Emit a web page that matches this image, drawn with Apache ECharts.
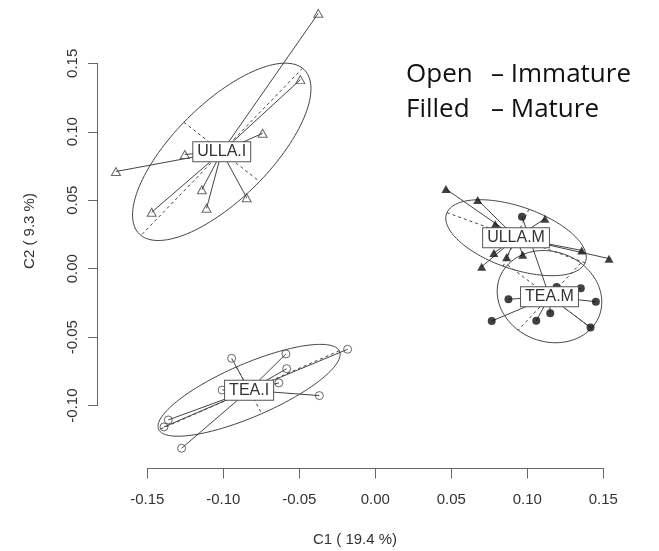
<!DOCTYPE html>
<html><head><meta charset="utf-8">
<script src="https://cdn.jsdelivr.net/npm/echarts@6/dist/echarts.min.js"></script>
<style>html,body{margin:0;padding:0;background:#fff}#c{width:659px;height:551px}</style>
</head><body><div id="c"></div>
<script>
// ---- data ----
const groupNames = ['ULLA.I', 'TEA.I', 'ULLA.M', 'TEA.M'];
const ullaI_C1 = [-0.0375, -0.0493, -0.0741, -0.1253, -0.1706, -0.1471, -0.1141, -0.1110, -0.0846];
const ullaI_C2 = [0.1869, 0.1384, 0.0992, 0.0837, 0.0712, 0.0414, 0.0579, 0.0443, 0.0520];
const teaI_C1 = [-0.0945, -0.0588, -0.0583, -0.0634, -0.0182, -0.0368, -0.1362, -0.1390, -0.1274, -0.1007];
const teaI_C2 = [-0.0654, -0.0622, -0.0730, -0.0834, -0.0588, -0.0927, -0.1105, -0.1156, -0.1312, -0.0886];
const ullaM_C1 = [0.0465, 0.0674, 0.0789, 0.1116, 0.1358, 0.1538, 0.0780, 0.0864, 0.0970, 0.0700];
const ullaM_C2 = [0.0584, 0.0504, 0.0327, 0.0367, 0.0135, 0.0075, 0.0116, 0.0085, 0.0104, 0.0016];
const teaM_C1 = [0.0965, 0.0876, 0.0766, 0.1059, 0.1151, 0.1352, 0.1451, 0.1416, 0.1193];
const teaM_C2 = [0.0382, -0.0222, -0.0382, -0.0380, -0.0325, -0.0142, -0.0240, -0.0429, -0.0132];
const centroidC1 = [-0.1010, -0.0830, 0.0926, 0.1146];
const centroidC2 = [0.0856, -0.0888, 0.0228, -0.0203];
const ellipseSemiMajor = [0.081, 0.066, 0.049, 0.036];
const ellipseSemiMinor = [0.033, 0.019, 0.0225, 0.032];
const ellipseAngleDeg = [49, 26, -22, -40];
const c1Ticks = [-0.15, -0.10, -0.05, 0.00, 0.05, 0.10, 0.15];
const c2Ticks = [-0.10, -0.05, 0.00, 0.05, 0.10, 0.15];
const xTitle = 'C1 ( 19.4 %)';
const yTitle = 'C2 ( 9.3 %)';
const noteLeft = ['Open', 'Filled'];
const noteRight = ['\u2013 Immature', '\u2013 Mature'];

// ---- build ----
const LINE = '#444';
const AX = '#666';
const TXT = '#333';
const FONT = 'Liberation Sans, Arial, sans-serif';
const NOTE_FONT = '26px "Open Sans", sans-serif';

const groupsC1 = [ullaI_C1, teaI_C1, ullaM_C1, teaM_C1];
const groupsC2 = [ullaI_C2, teaI_C2, ullaM_C2, teaM_C2];
const symbols = ['triangle', 'circle', 'triangle', 'circle'];
const filled = [false, false, true, true];

const spiderData = [];
groupsC1.forEach((xs, g) => xs.forEach((x, i) => spiderData.push([x, groupsC2[g][i], centroidC1[g], centroidC2[g]])));
const ellipseData = groupNames.map((n, g) => [centroidC1[g], centroidC2[g], ellipseSemiMajor[g], ellipseSemiMinor[g], ellipseAngleDeg[g]]);
const labelData = groupNames.map((n, g) => [centroidC1[g], centroidC2[g], n]);

function renderEllipse(params, api) {
  const cx = api.value(0), cy = api.value(1), a = api.value(2), b = api.value(3);
  const th = api.value(4) * Math.PI / 180, ct = Math.cos(th), st = Math.sin(th);
  const pts = [];
  for (let k = 0; k <= 144; k++) {
    const t = k / 144 * 2 * Math.PI;
    pts.push(api.coord([cx + a * ct * Math.cos(t) - b * st * Math.sin(t), cy + a * st * Math.cos(t) + b * ct * Math.sin(t)]));
  }
  const m1 = api.coord([cx + a * ct, cy + a * st]), m2 = api.coord([cx - a * ct, cy - a * st]);
  const n1 = api.coord([cx - b * st, cy + b * ct]), n2 = api.coord([cx + b * st, cy - b * ct]);
  const dash = { stroke: LINE, lineWidth: 1, lineDash: [3, 3], fill: null };
  return { type: 'group', children: [
    { type: 'polyline', shape: { points: pts }, style: { stroke: LINE, lineWidth: 1, fill: null } },
    { type: 'line', shape: { x1: m1[0], y1: m1[1], x2: m2[0], y2: m2[1] }, style: dash },
    { type: 'line', shape: { x1: n1[0], y1: n1[1], x2: n2[0], y2: n2[1] }, style: dash }
  ]};
}
function renderSpider(params, api) {
  const p = api.coord([api.value(0), api.value(1)]);
  const c = api.coord([api.value(2), api.value(3)]);
  return { type: 'line', shape: { x1: c[0], y1: c[1], x2: p[0], y2: p[1] }, style: { stroke: LINE, lineWidth: 1 } };
}
function renderLabel(params, api) {
  const c = api.coord([api.value(0), api.value(1)]);
  return { type: 'text', x: c[0], y: c[1], style: {
    text: groupNames[params.dataIndex], fill: TXT, font: '16px ' + FONT, align: 'center', verticalAlign: 'middle',
    backgroundColor: '#fff', borderColor: '#555', borderWidth: 1, padding: [2, 4, 1, 4]
  }};
}

const series = [
  { type: 'custom', xAxisIndex: 0, yAxisIndex: 0, data: ellipseData, renderItem: renderEllipse, encode: { x: 0, y: 1 }, clip: false, silent: true, z: 1 },
  { type: 'custom', xAxisIndex: 0, yAxisIndex: 0, data: spiderData, renderItem: renderSpider, encode: { x: 0, y: 1 }, clip: false, silent: true, z: 2 }
];
groupsC1.forEach((xs, g) => {
  series.push({
    type: 'scatter', xAxisIndex: 0, yAxisIndex: 0, z: 3, silent: true,
    symbol: symbols[g],
    symbolSize: symbols[g] === 'triangle' ? [9, 8] : 8,
    itemStyle: filled[g] ? { color: '#111', borderWidth: 0 } : { color: 'rgba(0,0,0,0)', borderColor: LINE, borderWidth: 1 },
    data: xs.map((x, i) => [x, groupsC2[g][i]])
  });
});
series.push({ type: 'custom', xAxisIndex: 0, yAxisIndex: 0, data: labelData, renderItem: renderLabel, encode: { x: 0, y: 1 }, clip: false, silent: true, z: 5 });

const fmt = v => v.toFixed(2);
const option = {
  animation: false,
  backgroundColor: '#fff',
  grid: [
    { left: 97.1, right: 17.7, top: 9.1, bottom: 82.5 },
    { left: 147.3, right: 55.7, top: 9.1, bottom: 82.5 },
    { left: 97.1, right: 17.7, top: 63.3, bottom: 145.4 }
  ],
  xAxis: [
    { gridIndex: 0, type: 'value', min: -0.183, max: 0.175, show: false },
    { gridIndex: 1, type: 'value', min: c1Ticks[0], max: c1Ticks[c1Ticks.length - 1], interval: 0.05,
      axisLine: { lineStyle: { color: AX, width: 1 } },
      axisTick: { show: true, length: 10, lineStyle: { color: AX } },
      axisLabel: { formatter: fmt, color: TXT, fontSize: 15, fontFamily: FONT, margin: 24 },
      splitLine: { show: false } },
    { gridIndex: 2, type: 'value', show: false }
  ],
  yAxis: [
    { gridIndex: 0, type: 'value', min: -0.146, max: 0.19, show: false },
    { gridIndex: 1, type: 'value', show: false },
    { gridIndex: 2, type: 'value', min: c2Ticks[0], max: c2Ticks[c2Ticks.length - 1], interval: 0.05,
      axisLine: { show: true, lineStyle: { color: AX, width: 1 } },
      axisTick: { show: true, length: 9, lineStyle: { color: AX } },
      axisLabel: { formatter: fmt, color: TXT, fontSize: 15, fontFamily: FONT, rotate: 90, margin: 17 },
      splitLine: { show: false } }
  ],
  graphic: [
    { type: 'text', x: 355, y: 540, style: { text: xTitle, fill: TXT, font: '15px ' + FONT, align: 'center', verticalAlign: 'middle' } },
    { type: 'text', x: 30, y: 231, rotation: Math.PI / 2, style: { text: yTitle, fill: TXT, font: '15px ' + FONT, align: 'center', verticalAlign: 'middle' } },
    { type: 'text', x: 406, y: 75, style: { text: noteLeft[0], fill: '#111', font: NOTE_FONT, align: 'left', verticalAlign: 'middle' } },
    { type: 'text', x: 491, y: 75, style: { text: noteRight[0], fill: '#111', font: NOTE_FONT, align: 'left', verticalAlign: 'middle' } },
    { type: 'text', x: 406, y: 110, style: { text: noteLeft[1], fill: '#111', font: NOTE_FONT, align: 'left', verticalAlign: 'middle' } },
    { type: 'text', x: 491, y: 110, style: { text: noteRight[1], fill: '#111', font: NOTE_FONT, align: 'left', verticalAlign: 'middle' } }
  ],
  series: series
};
const chart = echarts.init(document.getElementById('c'), null, { renderer: 'canvas' });
chart.setOption(option);
</script></body></html>
